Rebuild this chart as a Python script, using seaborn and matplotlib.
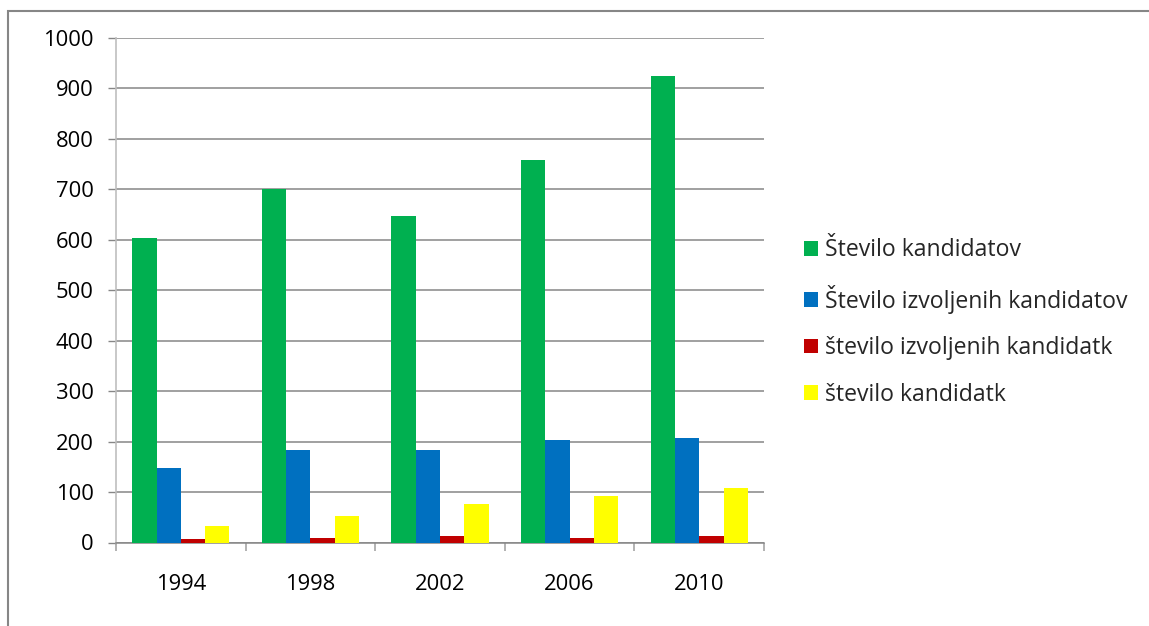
import matplotlib
matplotlib.use("Agg")
import matplotlib.pyplot as plt
from matplotlib.patches import Rectangle
from matplotlib.ticker import FixedLocator, MultipleLocator
import seaborn as sns
import pandas as pd

# Election data by year
years = ["1994", "1998", "2002", "2006", "2010"]
series_names = [
    "Število kandidatov",
    "Število izvoljenih kandidatov",
    "število izvoljenih kandidatk",
    "število kandidatk",
]
kandidati = [603, 700, 647, 758, 925]
izvoljeni_kandidati = [148, 184, 184, 204, 208]
izvoljene_kandidatke = [6, 9, 13, 9, 13]
kandidatke = [33, 53, 77, 92, 108]
series_colors = ["#00B050", "#0070C0", "#C00000", "#FFFF00"]

series_values = [kandidati, izvoljeni_kandidati, izvoljene_kandidatke, kandidatke]
df = pd.DataFrame(
    [
        {"Leto": y, "Serija": name, "Vrednost": v}
        for name, vals in zip(series_names, series_values)
        for y, v in zip(years, vals)
    ]
)

sns.set_style("white")
plt.rcParams["font.family"] = ["Open Sans", "DejaVu Sans"]

W, H = 1149, 626
fig = plt.figure(figsize=(W / 100, H / 100), dpi=100)
ax = fig.add_axes([116 / W, 1 - 542.5 / H, (764 - 116) / W, (542.5 - 38) / H])

grid_color = "#868686"
sns.barplot(
    data=df, x="Leto", y="Vrednost", hue="Serija", order=years,
    hue_order=series_names, palette=series_colors, width=0.75,
    saturation=1, gap=0, errorbar=None, linewidth=0, ax=ax, zorder=3,
)

ax.set_xlim(-0.5, len(years) - 0.5)
ax.set_ylim(0, 1000)
ax.yaxis.set_major_locator(MultipleLocator(100))
ax.grid(axis="y", color=grid_color, linewidth=1.1, zorder=0)
ax.set_axisbelow(True)
ax.set_xlabel("")
ax.set_ylabel("")

for side in ["top", "right"]:
    ax.spines[side].set_visible(False)
ax.spines["left"].set_color("#BFBFBF")
ax.spines["left"].set_linewidth(1.2)
ax.spines["bottom"].set_color(grid_color)
ax.spines["bottom"].set_linewidth(1.1)

ax.tick_params(axis="y", which="major", left=True, length=6, width=1,
               color=grid_color, labelsize=15.8, pad=10, labelcolor="black")
ax.xaxis.set_minor_locator(FixedLocator([i - 0.5 for i in range(len(years) + 1)]))
ax.tick_params(axis="x", which="minor", bottom=True, length=6, width=1.2,
               color="#A6A6A6")
ax.tick_params(axis="x", which="major", bottom=False, length=0,
               labelsize=15.8, pad=23, labelcolor="black")

handles, labels = ax.get_legend_handles_labels()
ax.legend(
    handles, labels, loc="center left",
    bbox_to_anchor=(804 / W, 1 - 322.5 / H), bbox_transform=fig.transFigure,
    frameon=False, fontsize=16.6, handlelength=0.6, handleheight=0.6,
    handletextpad=0.3, labelspacing=0.97, borderpad=0, borderaxespad=0,
)

# Chart area border
fig.patches.append(Rectangle((8 / W, -0.05), 1.2, 1 - 11 / H + 0.05,
                             transform=fig.transFigure, fill=False,
                             edgecolor="#868686", linewidth=1.5))

fig.savefig("out.png", dpi=100)
